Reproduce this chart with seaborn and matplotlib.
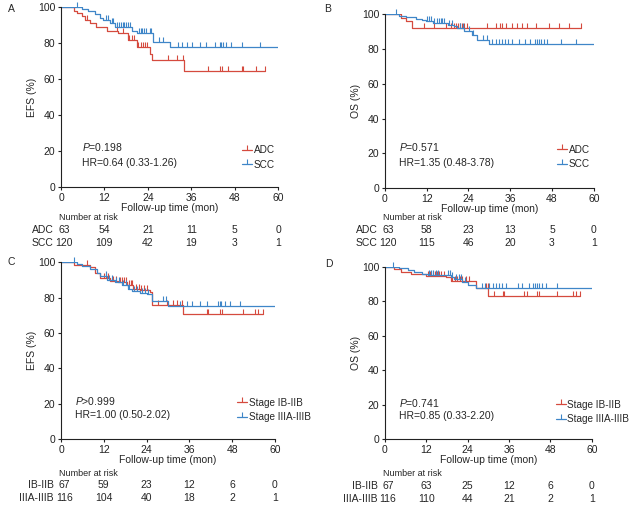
import numpy as np
import matplotlib
matplotlib.use("Agg")
import matplotlib.pyplot as plt
import matplotlib.transforms as mtransforms
from matplotlib.lines import Line2D
import seaborn as sns

# -------------------------------------------------------
# Dane (krzywe KM, cenzurowania, tabele ryzyka)
# -------------------------------------------------------
red = "#d54a3e"
blue = "#3f86c8"

# A: EFS, ADC vs SCC
a_adc_t = [0, 3.6, 4.5, 5.7, 6.6, 8.0, 9.8, 12.6, 15.8, 18.6, 20.9, 24.6, 25.2, 34.0, 56.5]
a_adc_s = [100, 98, 97, 95, 93, 91, 89, 87, 85.5, 81.7, 78, 74, 70.6, 64.7, 64.7]
a_adc_c = [7.3, 15.4, 17.2, 18.8, 19.5, 20.2, 21.3, 22.0, 22.6, 23.2, 23.8, 29.6, 32.0, 33.6,
           40.7, 43.8, 44.5, 46.2, 49.9, 50.4, 54.0, 56.5]
a_scc_t = [0, 5.7, 7.5, 9.4, 10.8, 11.7, 13.5, 14.9, 19.5, 20.9, 25.5, 30.0, 60]
a_scc_s = [100, 99, 98, 96, 94, 93, 91, 89, 87, 85.7, 80.9, 77.7, 77.7]
a_scc_c = [4.5, 12.5, 13.0, 14.0, 14.5, 15.5, 16.0, 16.5, 17.0, 17.5, 18.0, 18.5, 19.0, 21.5,
           22.0, 22.5, 23.0, 23.5, 24.5, 25.0, 27.2, 28.2, 32.4, 33.3, 34.7, 36.1, 38.4, 40.2,
           42.5, 43.8, 44.3, 44.8, 45.7, 47.1, 49.9, 54.9]

# B: OS, ADC vs SCC
b_adc_t = [0, 4.6, 6.0, 7.9, 56.2]
b_adc_s = [100, 98, 96, 92.3, 92.3]
b_adc_c = [11.3, 14.1, 17.5, 19.0, 19.8, 20.5, 21.0, 21.6, 22.2, 22.8, 23.6, 29.4, 31.8, 33.2,
           33.7, 34.7, 36.6, 38.0, 39.5, 40.9, 43.3, 47.1, 50.0, 52.8, 56.2]
b_scc_t = [0, 4.0, 6.0, 8.9, 10.8, 11.7, 13.7, 18.0, 19.9, 20.8, 22.7, 25.0, 26.6, 29.9, 60]
b_scc_s = [100, 99, 98.5, 97.5, 97, 96, 95, 94, 93, 92, 90.5, 88, 85.5, 82.8, 82.8]
b_scc_c = [3.3, 12.2, 12.8, 13.3, 14.2, 15.0, 15.5, 16.0, 16.5, 17.0, 18.5, 19.2, 21.5, 22.3,
           24.3, 25.3, 28.2, 29.2, 30.9, 31.8, 32.7, 33.6, 34.5, 35.4, 36.6, 38.6, 40.3, 41.8,
           43.0, 43.6, 44.2, 44.8, 45.6, 46.7, 50.5, 54.8]

# C: EFS, stadium
c_lo_t = [0, 3.5, 8.1, 9.5, 10.9, 13.7, 16.0, 18.4, 20.3, 22.1, 25.0, 25.4, 34.3, 56.7]
c_lo_s = [100, 98.5, 97, 94, 91, 89.5, 88.5, 87, 85, 84, 83, 75.6, 70.5, 70.5]
c_lo_c = [7.2, 12.0, 12.6, 13.2, 14.5, 15.5, 16.5, 17.0, 17.6, 18.2, 19.0, 19.5, 20.0, 21.0,
          21.8, 22.5, 23.2, 24.0, 27.3, 29.6, 31.5, 32.4, 33.8, 40.8, 41.3, 44.7, 45.2, 51.1,
          54.4, 55.3, 56.7]
c_hi_t = [0, 4.4, 5.8, 8.1, 10.0, 10.9, 12.8, 15.1, 17.0, 18.9, 19.8, 22.1, 24.0, 25.4, 30.1, 60]
c_hi_s = [100, 99, 98, 96, 94, 92, 90, 88.5, 87, 85, 83.5, 82.5, 82, 78, 75, 75]
c_hi_c = [3.6, 12.5, 13.5, 14.2, 15.5, 16.2, 17.5, 18.2, 19.2, 20.5, 21.2, 22.8, 23.5, 24.5,
          28.7, 29.3, 33.3, 35.2, 36.6, 38.9, 40.8, 44.0, 44.5, 45.0, 45.9, 47.3, 50.1]

# D: OS, stadium
d_lo_t = [0, 2.7, 4.6, 7.5, 9.0, 11.9, 17.7, 19.1, 23.0, 26.4, 30.0, 56.6]
d_lo_s = [100, 98.5, 97, 96, 95.5, 94.5, 94, 92, 91.5, 87.5, 83.3, 83.3]
d_lo_c = [12.5, 13.2, 14.0, 14.6, 15.2, 15.8, 16.4, 17.0, 19.6, 20.3, 21.0, 21.7, 22.4, 23.4,
          24.3, 29.3, 29.8, 31.7, 34.1, 34.6, 40.4, 41.3, 44.2, 44.7, 50.0, 54.4, 55.4, 56.6]
d_hi_t = [0, 4.2, 6.6, 8.5, 10.9, 12.4, 18.2, 19.1, 20.1, 22.5, 24.0, 26.4, 60]
d_hi_s = [100, 99, 98, 97, 96, 95, 95, 94, 93, 91, 89.5, 87.5, 87.5]
d_hi_c = [2.3, 12.7, 13.4, 14.0, 14.7, 15.3, 18.3, 18.9, 19.5, 20.5, 21.5, 22.0, 23.2, 28.3,
          29.0, 30.3, 31.3, 32.2, 33.1, 34.0, 35.0, 38.5, 39.8, 41.8, 43.0, 43.6, 44.2, 44.8,
          45.5, 46.8, 50.0]

risk_times = [0, 12, 24, 36, 48, 60]
a_risk = {"ADC": [63, 54, 21, 11, 5, 0], "SCC": [120, 109, 42, 19, 3, 1]}
b_risk = {"ADC": [63, 58, 23, 13, 5, 0], "SCC": [120, 115, 46, 20, 3, 1]}
c_risk = {"IB-IIB": [67, 59, 23, 12, 6, 0], "IIIA-IIIB": [116, 104, 40, 18, 2, 1]}
d_risk = {"IB-IIB": [67, 63, 25, 12, 6, 0], "IIIA-IIIB": [116, 110, 44, 21, 2, 1]}

panels = [
    dict(letter="A", ylab="EFS (%)", rect=[0.0964, 0.634, 0.343, 0.352],
         curves=[(a_adc_t, a_adc_s, a_adc_c, red), (a_scc_t, a_scc_s, a_scc_c, blue)],
         labels=["ADC", "SCC"], p="=0.198", hr="HR=0.64 (0.33-1.26)",
         txt_xy=(0.097, 0.222, 0.133), leg_xy=(0.835, 0.233), risk=a_risk,
         risk_y=(217, 230, 243), letter_xy=(8, 9)),
    dict(letter="B", ylab="OS (%)", rect=[0.608, 0.632, 0.330, 0.340],
         curves=[(b_adc_t, b_adc_s, b_adc_c, red), (b_scc_t, b_scc_s, b_scc_c, blue)],
         labels=["ADC", "SCC"], p="=0.571", hr="HR=1.35 (0.48-3.78)",
         txt_xy=(0.067, 0.236, 0.144), leg_xy=(0.825, 0.248), risk=b_risk,
         risk_y=(218, 230, 243), letter_xy=(324, 9)),
    dict(letter="C", ylab="EFS (%)", rect=[0.0964, 0.141, 0.338, 0.346],
         curves=[(c_lo_t, c_lo_s, c_lo_c, red), (c_hi_t, c_hi_s, c_hi_c, blue)],
         labels=["Stage IB-IIB", "Stage IIIA-IIIB"], p=">0.999", hr="HR=1.00 (0.50-2.02)",
         txt_xy=(0.065, 0.215, 0.136), leg_xy=(0.823, 0.233), risk=c_risk,
         risk_y=(473, 485, 498), letter_xy=(7, 262)),
    dict(letter="D", ylab="OS (%)", rect=[0.608, 0.141, 0.327, 0.337],
         curves=[(d_lo_t, d_lo_s, d_lo_c, red), (d_hi_t, d_hi_s, d_hi_c, blue)],
         labels=["Stage IB-IIB", "Stage IIIA-IIIB"], p="=0.741", hr="HR=0.85 (0.33-2.20)",
         txt_xy=(0.068, 0.209, 0.134), leg_xy=(0.826, 0.228), risk=d_risk,
         risk_y=(473, 486, 499), letter_xy=(325, 264)),
]

# -------------------------------------------------------
# Styl
# -------------------------------------------------------
sns.set_style("ticks")
plt.rcParams["font.family"] = ["Liberation Sans", "DejaVu Sans"]
plt.rcParams["mathtext.fontset"] = "custom"
plt.rcParams["mathtext.it"] = "Liberation Sans:italic"
plt.rcParams["mathtext.rm"] = "Liberation Sans"

W, H = 633, 511
fig = plt.figure(figsize=(W / 100, H / 100), dpi=100)


def step_at(t, s, x):
    idx = np.searchsorted(t, x, side="right") - 1
    return np.asarray(s)[idx]


for pan in panels:
    ax = fig.add_axes(pan["rect"])
    for t, s, cens, col in pan["curves"]:
        sns.lineplot(x=t, y=s, drawstyle="steps-post", color=col, lw=0.9,
                     estimator=None, sort=False, ax=ax)
        ax.plot(cens, step_at(t, s, cens), ls="none", marker=2, ms=3.4, mew=0.8,
                color=col, clip_on=False)

    ax.set_xlim(0, 60)
    ax.set_ylim(0, 100)
    ax.set_xticks(risk_times)
    ax.set_yticks([0, 20, 40, 60, 80, 100])
    ax.tick_params(labelsize=7.5, length=2.5, width=0.8, pad=1.5, colors="#222222")
    for sp in ["left", "bottom"]:
        ax.spines[sp].set_linewidth(0.8)
        ax.spines[sp].set_color("#222222")
    sns.despine(ax=ax)
    ax.set_xlabel("Follow-up time (mon)", fontsize=7.5, labelpad=0)
    ax.set_ylabel(pan["ylab"], fontsize=7.5, labelpad=1)

    tx, py, hy = pan["txt_xy"]
    ax.text(tx, py, "$P$" + pan["p"], transform=ax.transAxes, fontsize=7.5, va="center")
    ax.text(tx, hy, pan["hr"], transform=ax.transAxes, fontsize=7.5, va="center")

    handles = [Line2D([], [], color=c[3], lw=0.9, marker=2, ms=3.4, mew=0.8)
               for c in pan["curves"]]
    ax.legend(handles, pan["labels"], loc="upper left", bbox_to_anchor=pan["leg_xy"],
              frameon=False, fontsize=7.2, handlelength=1.0, handletextpad=0.15,
              labelspacing=0.45, borderpad=0, borderaxespad=0, markerfirst=True)

    # tabela liczby pacjentów w ryzyku
    tr = mtransforms.blended_transform_factory(ax.transData, fig.transFigure)
    ry = [1 - v / H for v in pan["risk_y"]]
    ax.text(-0.5, ry[0], "Number at risk", transform=tr, fontsize=6.5,
            ha="left", va="center", clip_on=False)
    for (name, vals), yy in zip(pan["risk"].items(), ry[1:]):
        ax.text(-2.0, yy, name, transform=tr, fontsize=7.5, ha="right", va="center")
        for i, (xt, v) in enumerate(zip(risk_times, vals)):
            xx = xt + 0.9 if i == 0 else xt
            ax.text(xx, yy, str(v), transform=tr, fontsize=7.5, ha="center", va="center")

    fig.text(pan["letter_xy"][0] / W, 1 - pan["letter_xy"][1] / H, pan["letter"],
             fontsize=7.5, ha="left", va="center")

plt.savefig("out.png", dpi=100)
plt.close()
